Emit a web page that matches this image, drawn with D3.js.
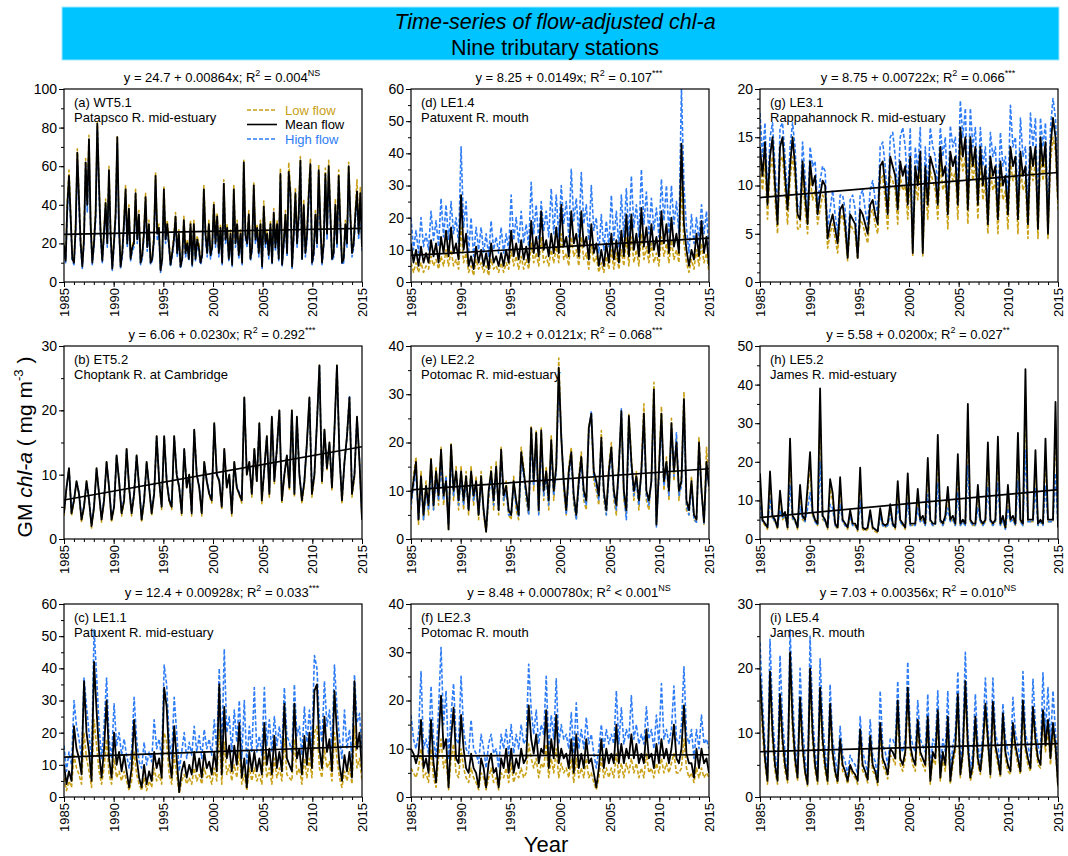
<!DOCTYPE html>
<html>
<head>
<meta charset="utf-8">
<script src="https://cdn.jsdelivr.net/npm/d3@7"></script>
<style>
  body { margin: 0; background: #fff; }
  svg { display: block; font-family: "Liberation Sans", Arial, Helvetica, sans-serif; }
</style>
</head>
<body>
<svg id="chart" width="1068" height="856"></svg>
<script>
// Flow-adjusted GM chl-a (mg m^-3), one row per year 1985-2014.
// WT5.1 rows hold six bi-monthly values; the other stations hold quarterly values [Q1, Q2, Q3, Q4].

// (a) WT5.1
const wt51Low = [
  [20,12,42,58,36,13],[11,30,69,45,22,9],[24,64,42,76,32,11],[22,37,83,53,27,12],[27,43,22,60,27,8],
  [22,37,76,32,9,16],[32,50,22,40,13,19],[22,48,24,37,11,15],[27,46,20,32,11,13],[24,57,27,30,7,13],
  [50,24,32,22,10,16],[24,36,16,27,9,13],[34,16,22,13,32,10],[32,13,24,20,11,15],[50,27,16,32,15,19],
  [42,22,36,16,30,11],[53,24,30,13,27,10],[50,22,32,15,27,11],[63,26,22,37,13,19],[52,24,30,16,32,9],
  [42,22,27,15,32,11],[38,20,32,13,59,10],[22,37,16,62,49,9],[27,49,22,37,65,13],[43,16,27,48,64,11],
  [17,37,22,61,32,11],[22,59,27,63,37,13],[17,43,22,58,32,11],[14,32,22,62,37,16],[22,37,53,27,49,19]];
const wt51Mean = [
  [19,11,40,55,34,12],[10,28,67,43,20,8],[22,62,40,74,30,10],[20,35,82,51,25,11],[25,41,20,58,25,7],
  [20,35,75,30,8,15],[30,48,20,38,12,18],[20,46,22,35,10,14],[25,44,18,30,10,12],[22,55,25,28,6,12],
  [48,22,30,20,9,15],[22,34,15,25,8,12],[32,15,20,12,30,9],[30,12,22,18,10,14],[48,25,15,30,14,18],
  [40,20,34,15,28,10],[51,22,28,12,25,9],[48,20,30,14,25,10],[62,24,20,35,12,18],[50,22,28,15,30,8],
  [39,20,25,14,30,10],[36,18,30,12,56,9],[20,35,15,57,46,8],[25,46,20,35,63,12],[40,15,25,45,61,10],
  [15,35,20,58,30,10],[20,56,25,60,35,12],[15,40,20,55,30,10],[12,30,20,60,35,15],[20,35,47,25,46,18]];
const wt51High = [
  [17,10,36,50,31,11],[9,25,62,39,18,7],[20,58,36,70,27,9],[18,32,79,47,22,10],[23,38,18,54,22,6],
  [18,32,72,27,7,13],[27,44,18,35,11,16],[18,42,20,32,9,12],[23,40,16,27,9,11],[20,51,22,25,5,11],
  [44,20,27,18,8,13],[20,31,13,22,7,11],[29,13,18,11,27,8],[27,11,20,16,9,12],[44,22,13,27,12,16],
  [36,18,31,13,25,9],[47,20,25,11,22,8],[44,18,27,12,22,9],[59,22,18,32,11,16],[46,20,25,13,27,7],
  [35,18,22,12,27,9],[33,16,27,11,52,8],[18,32,13,53,42,7],[22,42,18,32,60,11],[36,13,22,41,58,9],
  [13,32,18,55,27,9],[18,52,22,57,32,11],[13,36,18,51,27,9],[10,27,18,57,32,13],[18,32,43,22,42,16]];

// (b) ET5.2
const et52Low = [
  [3.6,8,11,3.6],[5.8,9,7,2.6],[4.8,9,6,1.7],[4.8,11,7,2.6],[5.8,12,8,2.6],[4.8,13,9,3.6],
  [5.8,14,8,3.6],[6.8,13,8,2.6],[5.8,12,8,3.6],[6.8,16,9,4.6],[16,9,5.8,4.6],[16,10,8,3.6],
  [14,8,10,3.6],[17,10,8,3.6],[12,9,6.8,5.6],[18,10,9,4.6],[14,8,10,3.6],[12,8,6.8,5.6],
  [22,10,12,6.5],[14,8.8,18,5.5],[11,16,6.5,19],[8.6,14,20,5.5],[9.6,13,7.5,20],[6.5,19,10,5.5],
  [8.6,15,22,6.5],[9.6,18,27,8.5],[17,10.6,15,7.5],[17,27,13,5.5],[12,16,22,6.5],[9.6,19,12,2.8]];
const et52Mean = [
  [4,8,11,4],[6,9,7,3],[5,9,6,2],[5,11,7,3],[6,12,8,3],[5,13,9,4],
  [6,14,8,4],[7,13,8,3],[6,12,8,4],[7,16,9,5],[16,9,6,5],[16,10,8,4],
  [14,8,10,4],[17,10,8,4],[12,9,7,6],[18,10,9,5],[14,8,10,4],[12,8,7,6],
  [22,10,12,7],[14,9,18,6],[11,16,7,19],[9,14,20,6],[10,13,8,20],[7,19,10,6],
  [9,15,22,7],[10,18,27,9],[17,11,15,8],[17,27,13,6],[12,16,22,7],[10,19,12,3]];
const et52High = [
  [4.3,8,10.8,4.3],[6.2,8.8,7.2,3.3],[5.2,8.8,6.2,2.3],[5.2,10.8,7.2,3.3],[6.2,11.8,8.2,3.3],[5.2,12.8,9.2,4.3],
  [6.2,13.8,8.2,4.3],[7.2,12.8,8.2,3.3],[6.2,11.8,8.2,4.3],[7.2,15.8,9.2,5.3],[15.8,9.2,6.3,5.3],[15.8,10.2,8.2,4.3],
  [13.8,8.2,9.8,4.3],[16.8,10.2,8.2,4.3],[11.8,9.2,7.2,6.3],[17.8,10.2,9.2,5.3],[13.8,8.2,9.8,4.3],[11.8,8.2,7.2,6.3],
  [21.8,10.2,11.8,7.3],[13.8,9.2,17.8,6.3],[10.8,15.8,7.3,18.8],[9.2,13.8,19.8,6.3],[10.2,12.8,8.3,19.8],[7.3,18.8,10.2,6.3],
  [9.2,14.8,21.8,7.3],[10.2,17.8,26.8,9.3],[16.8,11.2,14.8,8.3],[16.8,26.8,13.2,6.3],[11.8,15.8,22.3,7.3],[10.2,18.8,12.2,3.3]];

// (c) LE1.1
const le11Low = [
  [6,2,5,3],[13,9,7,4],[20,12,8,3],[24,16,8,4],[9,18,7,4],[12,6,8,5],
  [8,5,2,5],[14,7,4,2],[6,2,5,3],[9,5,7,4],[20,17,7,4],[13,7,1,5],
  [7,4,6,4],[9,5,7,4],[9,6,7,4],[9,5,21,4],[17,7,10,5],[10,6,14,4],
  [7,2,9,5],[9,5,7,4],[14,6,9,4],[12,6,9,5],[18,7,6,5],[18,7,9,4],
  [12,6,12,6],[20,22,9,6],[15,9,11,5],[20,12,6,3],[8,5,9,4],[22,9,12,5]];
const le11Mean = [
  [10,4,8,5],[22,15,12,7],[36,20,14,5],[42,27,14,6],[15,30,12,6],[20,10,14,8],
  [13,8,3,9],[24,12,6,3],[10,4,8,5],[14,9,12,6],[34,28,12,6],[22,12,1.5,8],
  [11,6,10,7],[14,8,12,6],[14,9,11,7],[14,8,35,7],[28,12,16,8],[16,10,23,6],
  [12,3,14,8],[14,8,12,7],[23,10,15,7],[19,9,14,8],[29,12,10,8],[29,12,15,7],
  [19,10,20,9],[33,35,15,9],[25,14,18,8],[33,20,10,5],[13,8,14,6],[36,15,20,8]];
const le11High = [
  [16,8,14,10],[30,22,18,12],[37,28,20,11],[52,38,22,12],[22,37,18,12],[29,16,20,13],
  [18,13,9,14],[31,18,11,9],[17,10,14,11],[24,15,18,12],[41,35,18,12],[31,20,8,14],
  [20,12,17,13],[22,14,19,12],[21,15,18,13],[24,14,40,13],[46,20,25,14],[27,17,30,12],
  [30,10,22,14],[34,14,19,13],[34,16,24,14],[25,16,22,14],[34,19,17,14],[35,19,22,13],
  [28,17,27,16],[44,40,24,17],[36,22,27,15],[41,28,18,12],[27,15,21,12],[38,23,26,15]];

// (d) LE1.4
const le14Low = [
  [6,3,6,3],[6,3,5,4],[8,5,7,4],[8,5,10,5],[10,5,7,4],[17,6,9,3],
  [5,2,7,4],[6,3,5,2],[7,4,5,3],[6,3,6,4],[10,5,8,4],[8,4,7,4],
  [12,6,9,5],[14,6,8,5],[10,6,11,6],[15,7,9,5],[14,8,10,5],[14,7,9,4],
  [12,6,8,3],[6,3,8,4],[10,4,9,4],[10,5,14,5],[14,6,10,5],[15,7,11,6],
  [12,6,9,5],[14,8,12,6],[13,7,10,6],[30,12,6,3],[7,4,10,5],[12,6,9,3]];
const le14Mean = [
  [12,6,10,5],[11,6,9,6],[13,8,12,6],[14,9,16,8],[17,9,12,7],[27,10,15,5],
  [8,4,11,6],[10,5,9,4],[12,6,8,5],[9,5,10,6],[16,8,12,7],[13,7,11,6],
  [19,9,14,8],[22,10,13,8],[15,9,17,9],[24,11,14,8],[22,12,15,8],[22,11,14,7],
  [18,9,12,5],[10,5,12,6],[15,7,13,6],[16,8,21,8],[21,10,15,8],[23,11,17,9],
  [18,10,14,8],[22,12,18,9],[20,11,15,9],[43,18,10,5],[10,7,15,8],[19,9,14,5]];
const le14High = [
  [20,10,16,9],[20,11,15,10],[22,13,19,11],[26,14,24,13],[25,15,20,12],[42,17,25,9],
  [20,8,17,10],[17,9,15,8],[19,10,14,9],[17,9,15,10],[27,13,20,12],[22,12,18,11],
  [31,15,24,13],[25,16,22,14],[29,15,27,14],[30,18,25,14],[35,19,26,14],[34,18,24,13],
  [30,16,20,9],[21,10,19,11],[27,13,22,11],[27,14,29,14],[33,17,24,14],[35,18,28,15],
  [26,16,23,14],[32,19,30,15],[30,18,25,15],[60,30,17,9],[21,12,20,13],[24,15,22,9]];

// (e) LE2.2
const le22Low = [
  [6,13,17,3],[14,4,12,5],[17,6,15,7],[19,7,13,2],[20,8,15,6],[15,6,14,5],
  [15,7,13,4],[14,5,1.5,8],[15,6,16,5],[19,7,12,5],[4,13,6,4],[19,15,8,5],
  [23.5,10,22.5,5],[23,8,15,6],[21.5,8,16,37.5],[22,10,5,15],[19,7,4,13],[18,8,6,23.5],
  [25,12,10,7],[22.5,8,5,15],[20,8,5,16],[25,8,5,26],[17,8,14,6],[15,28,8,6],
  [13,32.5,3,15],[27.5,10,17,8],[25,12,21,8],[13,30.5,6,5],[13,4,3.5,21],[11,3,19,10]];
const le22Mean = [
  [8,12,16,4],[13,5,11,7],[16.5,7,14,9],[18.5,9,12,2],[19.5,10,14,8],[14,8,13,6],
  [14,9,12,5],[13,6,1.5,10],[14,8,15,6],[18.5,9,11,6],[5,12,8,5],[18,14,10,6],
  [23,12,22,6],[22.5,10,14,8],[20.5,10,15,35.5],[21,12,6,14],[18,9,5,12],[17,10,8,23],
  [26,14,12,9],[21,10,6,14],[19,10,7,15],[26.5,10,6,25.5],[16,10,13,8],[14,26,10,8],
  [12,31,3,14],[26,12,16,10],[24,14,20,10],[12,29,8,6],[12,5,4,20],[10,3.5,16,11]];
const le22High = [
  [7,11,14,4],[12,4,10,6],[15,6,13,8],[16,8,13,3],[17,9,14,7],[13,7,12,6],
  [13,8,11,5],[12,6,2,9],[13,7,14,6],[17,8,10,5],[5,11,7,4.5],[16,13,9,5],
  [21,11,20,5],[20,9,13,7],[19,9,14,33],[22,11,5,13],[17,8,4,11],[16,9,7,22],
  [26.5,13,11,8],[20,9,5,13],[18,9,6,14],[27,9,4,24],[15,9,12,7],[14,24,9,7],
  [12,29,2.5,13],[24,11,15,9],[23,13,22,9],[11,27,7,5],[11,4,3.5,19],[10,3,15,11]];

// (f) LE2.3
const le23Low = [
  [6,5,4,6],[10,4,5,3],[10,4,2,8],[12,6,8,1.5],[8,11,5,4],[10,6,4,3],
  [6,4,3,1.5],[5,4,1.5,4],[6,3,4,1.5],[5,4,6,3],[7,3,5,4],[6,4,5,11],
  [8,6,8,4],[7,6,11,4],[8,5,10,4],[7,5,6,4],[8,3,8,4],[6,4,8,4],
  [5,3,1.5,4],[8,4,6,4],[6,4,9,4],[7,4,7,5],[8,5,7,4],[6,4,9,5],
  [6,4,7,5],[8,5,7,5],[7,9,5,5],[6,12,6,4],[5,3,6,4],[6,4,5,4]];
const le23Mean = [
  [10,9,7,9],[16,6,8,5],[16,7,3,12],[21,10,12,2],[12,18.5,8,7],[17,10,6,5],
  [9,6,5,2],[8,6,2,7],[9,5,6,2],[8,6,10,5],[10,5,8,6],[10,7,8,19],
  [12,9,13,7],[10,9,18,6],[12,8,17,7],[10,8,9,6],[12,5,13,6],[9,6,12,7],
  [8,5,2,6],[12,6,10,7],[9,7,15,7],[11,7,10,8],[13,8,11,7],[9,7,14,8],
  [9,6,11,7],[12,8,10,7],[10,15,8,7],[10,19,9,7],[7,4,10,6],[10,7,8,5]];
const le23High = [
  [17,12,10,13],[26,10,12,9],[23,12,8,18],[31,15,22,8],[17,23.5,12,11],[25,14,10,9],
  [16,10,9,7],[13,10,6,11],[13,9,10,6],[13,10,14,9],[15,9,13,10],[15,11,12,27.5],
  [18,13,18,11],[15,13,25,10],[17,12,24.5,11],[15,12,13,10],[17.5,9,19.5,10],[14,10,16.5,11],
  [13,9,6,10],[15,10,14,11],[13,11,22,11],[18.5,11,14,12],[21,12,15,11],[13,11,18.7,12],
  [14,10,17,11],[23.5,12,14,11],[14,23,12,11],[15,27,13,11],[14,8,14,10],[17,11,12,10]];

// (g) LE3.1
const le31Low = [
  [12.5,9.5,12.5,6.5],[11.5,13,8.5,5],[12.5,13,9.5,6],[10.5,13,10.5,5.5],[5.5,11,7.5,5],[11,8.5,9.5,6],
  [7.5,9,8.5,3.5],[5,6,4.5,3],[6.5,7,5,2.2],[6,5.5,5,2.3],[6.5,6,5,4],[7,7.5,6,5],
  [10.5,11,8.5,5.5],[11,10.5,9.5,6],[11,9.5,10,6.5],[11.5,2.7,10.5,8.5],[12,2.7,10.5,6.5],[11.5,10.5,9.5,6.5],
  [12.5,9.5,10.5,5.5],[12,10.5,11.5,6.5],[14,11.5,13,6],[13.5,10.5,12.5,6.5],[12.5,8.5,10.5,5],[11.5,9.5,10.5,5],
  [11,8.5,9.5,5.5],[12.5,10.5,11.5,5],[12,9.5,10.5,4.5],[12.5,10.5,12.5,4.5],[13.5,10.5,13,4.5],[12.5,15,13.5,7.5]];
const le31Mean = [
  [14,11,14.5,8],[13,15,10,6],[14,15,11,7.5],[12,15,12,7],[6.5,12.5,9,6],[12.5,10,11,7],
  [9,10.5,10,4.5],[6,7,5.5,4],[7.5,8,6,2.5],[7,6.5,6,2.5],[7.5,7,6,5],[8,8.5,7,6],
  [12,12.5,10,7],[13,12,11,7.5],[12.5,11,12,8],[13,3,12,10],[13.5,3,12,8],[13,12,11,8],
  [14,11,12,7],[13.5,12,13,8],[16,13,15,7.5],[15,12,14,8],[14,10,12,6],[13,11,12,6.5],
  [12.5,10,11,7],[14,12,13,6.5],[13.5,11,12,6],[14,12,14,5.5],[15,12,14.5,5],[14,17,15,8.5]];
const le31High = [
  [17.5,13,16.5,9],[15,16.5,12,7],[16,16.5,13,8.5],[14,16.5,14,8],[7.5,14.5,11,7],[14,12,12.5,8],
  [10.5,12,11.5,5.5],[7.5,9.5,7,5],[9,9,7.5,3],[8.5,9,7.5,3],[9,9.5,7.5,6],[9.5,10.5,8.5,7],
  [14,14.5,12,8],[15,15.5,13,9],[15,16,14,9.5],[16,3.5,14,11.5],[16,3.5,14,9.5],[16,14,13,9.5],
  [16,13,15,8.5],[16.2,14,15,9.5],[18.8,15,18,9],[18,14,16,9.5],[16,12,14,7.5],[15.5,13,14,8],
  [15.5,12,13,8.5],[18.3,14,15,8],[17,13,14,7.5],[17.5,14,17,7],[17,14,16.5,6],[16,19,17,10]];

// (h) LE5.2
const le52Low = [
  [15,4.5,3.5,2.5],[15,5,4.5,2.5],[11,5,6,2.5],[22,5,4.5,2.5],[12,5,4.5,11.5],[19,6,4.5,3.5],
  [33,5,4.5,2.5],[13,10,3.5,2.5],[13.5,4.5,3.5,2.5],[6.5,3.5,3.5,2],[15.5,2.5,2,2.5],[6.5,2.5,2,1.5],
  [7,3.5,3,3.5],[8,3.5,2.5,12.5],[4.5,3.5,2.5,14.5],[3.5,3.5,3.5,11],[4.5,5,3.5,18],[4.5,3.5,3.5,23],
  [4.5,3.5,5,11.5],[4.5,5,3.5,19],[3.5,4.5,3.5,30],[4.5,3.5,3.5,12],[4.5,3.5,4.5,21],[4.5,3.5,4.5,22.5],
  [3.5,5,2.5,12],[4.5,5,3.5,23.5],[4.5,3.5,37,4.5],[4.5,4.5,19.5,3.5],[4.5,3.5,22,4.5],[4.5,4.5,30,2.5]];
const le52Mean = [
  [17,5,4,3],[17.5,6,5,3],[12.5,6,7,3],[26,6,5,3],[14,6,5,13.5],[22.5,7,5,4],
  [39,6,5,3],[15.5,12,4,3],[16,5,4,3],[7.5,4,4,2.5],[18.5,3,2.5,3],[7.5,3,2.5,2],
  [8,4,3.5,4],[9,4,3,15],[5,4,3,17],[4,4,4,13],[5,6,4,21],[5,4,4,27],
  [5,4,6,13.5],[5,6,4,22],[4,5,4,35],[5,4,4,14],[5,4,5,25],[5,4,5,26.5],
  [4,6,3,14],[5,6,4,27.5],[5,4,44,5],[5,5,23,4],[5,4,26,5],[5,5,35.5,3]];
const le52High = [
  [8.5,4.5,4,3],[10.5,5.5,4.5,3],[7.5,5.5,6,3],[14,5.5,4.5,3],[8.5,5.5,4.5,8],[12,6.5,4.5,3.5],
  [20,5.5,4.5,3],[9,8,3.5,3],[9,4.5,3.5,3],[6,3.5,3.5,2.5],[10,3,2.5,3],[6,3,2.5,2],
  [6,3.5,3,3.5],[6.5,3.5,3,8.5],[4.5,3.5,3,9.5],[3.5,3.5,3.5,8],[4.5,5,3.5,11.5],[4.5,3.5,3.5,14.5],
  [4.5,3.5,5,8],[4.5,5,3.5,12],[3.5,4.5,3.5,19],[4.5,3.5,3.5,8],[4.5,3.5,4.5,13.5],[4.5,3.5,4.5,14.5],
  [3.5,5,2.5,8],[4.5,5,3.5,15],[4.5,3.5,23,4.5],[4.5,4.5,13,3.5],[4.5,3.5,14,4.5],[4.5,4.5,17,3]];

// (i) LE5.4
const le54Low = [
  [17,10,5,2],[17.5,8.5,4,2],[14,7.5,4,2.2],[20,10,5,2.5],[13.5,7,3.5,1.7],[17.5,8.5,4,2],
  [15,7.5,4,2],[12.5,6,3.5,2],[8,4,3.5,2],[4.5,3.5,3,2],[9,4,3.5,2.2],[8,4,3.5,1.8],
  [10,5,4,2.8],[6.5,6,5,13],[5,4,6,15],[7,5,4,10.5],[6,5,4,11],[2,6,5,11.5],
  [2.5,6,4,11],[2,5,7,14],[3,6,16,7],[2.5,4,11,5],[3.5,7,13,8],[3,13,7,5],
  [3,11.5,6,4],[3.5,10,7,5],[3.5,13,7,5],[4,12.5,8,5],[4.5,12,7,10.5],[5,10,7,1.5]];
const le54Mean = [
  [19,12,6,2.5],[19.5,10,5,2.5],[16,9,5,2.7],[22.5,12,6,3],[15.5,8,4,2],[20,10,5,2.5],
  [17,9,5,2.5],[14.5,7,4,2.5],[9,5,4,2.5],[5,4,3.5,2.5],[10.5,5,4,2.7],[9.5,5,4,2.3],
  [11.5,6,5,3.5],[7.5,7,6,15],[6,5,7,17],[8,6,5,12],[7,6,5,12.5],[2.5,7,6,13.5],
  [3,7,5,12.5],[2.5,6,8,16],[3.5,7,18,8],[3,5,12.5,6],[4,8,14.5,9],[3.5,14.8,8,6],
  [3.5,13,7,5],[4,11.5,8,6],[4,15,8,6],[4.5,14,9,6],[5,13.5,8,12],[6,11.5,8,1.8]];
const le54High = [
  [24,15,8,3.5],[24.5,13,7,3.5],[22,12,7,3.7],[26,16,8,4],[20,11,6,3],[25,13,7,3.5],
  [21.5,12,7,3.5],[17.5,9,6,3.5],[11,6.5,5.5,3.5],[6.5,5.5,5,3.5],[12.5,7,5.5,3.5],[12,6.5,5.5,3],
  [16.5,8,7,5],[9,9,8,18],[8,7,9,21],[10,8,7,15],[9,8,7,16],[3.5,9,8,16.5],
  [4,9,7,16.5],[3.5,8,10,19.5],[5,9,22.5,10],[4,7,16,8],[5.5,10,18.5,11],[5,18.5,10,8],
  [5,14.5,9,7],[5.5,15.5,10,8],[5.5,19.5,10,8],[6,18.3,11,8],[6.5,19.3,10,17],[8,16.5,10,4]];

// Panel order: column by column, (a)-(c), (d)-(f), (g)-(i)
const stationIds = ["(a) WT5.1", "(b) ET5.2", "(c) LE1.1", "(d) LE1.4", "(e) LE2.2",
                    "(f) LE2.3", "(g) LE3.1", "(h) LE5.2", "(i) LE5.4"];
const stationNames = ["Patapsco R. mid-estuary", "Choptank R. at Cambridge", "Patuxent R. mid-estuary",
                      "Patuxent R. mouth", "Potomac R. mid-estuary", "Potomac R. mouth",
                      "Rappahannock R. mid-estuary", "James R. mid-estuary", "James R. mouth"];
const lowSeries  = [wt51Low,  et52Low,  le11Low,  le14Low,  le22Low,  le23Low,  le31Low,  le52Low,  le54Low];
const meanSeries = [wt51Mean, et52Mean, le11Mean, le14Mean, le22Mean, le23Mean, le31Mean, le52Mean, le54Mean];
const highSeries = [wt51High, et52High, le11High, le14High, le22High, le23High, le31High, le52High, le54High];

// Linear trend y = intercept + slope * x, x = months since January 1985
const intercepts = ["24.7", "6.06", "12.4", "8.25", "10.2", "8.48", "8.75", "5.58", "7.03"];
const slopes = ["0.00864", "0.0230", "0.00928", "0.0149", "0.0121", "0.000780", "0.00722", "0.0200", "0.00356"];
const r2Text = ["= 0.004", "= 0.292", "= 0.033", "= 0.107", "= 0.068", "< 0.001", "= 0.066", "= 0.027", "= 0.010"];
const significance = ["NS", "***", "***", "***", "***", "NS", "***", "**", "NS"];

const yMax   = [100, 30, 60, 60, 40, 40, 20, 50, 30];
const yMajor = [20, 10, 10, 10, 10, 10, 5, 10, 10];
const yMinor = [10, 5, 5, 5, 5, 5, 1, 5, 5];
const xTicks = [1985, 1990, 1995, 2000, 2005, 2010, 2015];
const yearStart = 1985, yearEnd = 2015;

const legendLabels = ["Low flow", "Mean flow", "High flow"];
const COLORS = { low: "#C9A016", mean: "#000000", high: "#2E7CF6" };

const svg = d3.select("#chart");

// Title banner
svg.append("rect").attr("x", 62).attr("y", 7).attr("width", 997).attr("height", 53)
  .attr("fill", "#00C4FF").attr("stroke", "#9FE8FF").attr("stroke-width", 1);
svg.append("text").attr("x", 555).attr("y", 29).attr("text-anchor", "middle")
  .attr("font-size", 21.5).attr("font-style", "italic").attr("fill", "#000")
  .text("Time-series of flow-adjusted chl-a");
svg.append("text").attr("x", 555).attr("y", 54.5).attr("text-anchor", "middle")
  .attr("font-size", 21.5).attr("fill", "#000")
  .text("Nine tributary stations");

// Shared axis titles
const yTitle = svg.append("text").attr("transform", "translate(32,447) rotate(-90)")
  .attr("text-anchor", "middle").attr("font-size", 21).attr("fill", "#000");
yTitle.append("tspan").text("GM ");
yTitle.append("tspan").attr("font-style", "italic").text("chl-a");
yTitle.append("tspan").text(" ( mg m");
yTitle.append("tspan").attr("font-size", 13).attr("dy", -9).text("-3");
yTitle.append("tspan").attr("dy", 9).text(" )");

svg.append("text").attr("x", 546).attr("y", 852).attr("text-anchor", "middle")
  .attr("font-size", 22).attr("fill", "#000").text("Year");

const colLeft = [64, 411, 760];
const rowTop = [89, 346, 604];
const W = 298, H = 193;

const x = d3.scaleLinear().domain([yearStart, yearEnd]).range([0, W]);

stationIds.forEach((id, i) => {
  const col = Math.floor(i / 3), row = i % 3;
  const g = svg.append("g").attr("transform", `translate(${colLeft[col]},${rowTop[row]})`);
  const y = d3.scaleLinear().domain([0, yMax[i]]).range([H, 0]);

  // Clip region for the series
  const clipId = `clip-${i}`;
  g.append("clipPath").attr("id", clipId).append("rect")
    .attr("x", 0).attr("y", 0).attr("width", W).attr("height", H);

  const plot = g.append("g").attr("clip-path", `url(#${clipId})`);

  const drawSeries = (rows, color, dashed, width) => {
    const vals = rows.flat();
    const n = vals.length;
    const line = d3.line()
      .x((d, k) => x(yearStart + k * (yearEnd - yearStart) / (n - 1)))
      .y(d => y(d));
    plot.append("path").datum(vals)
      .attr("d", line)
      .attr("fill", "none")
      .attr("stroke", color)
      .attr("stroke-width", width)
      .attr("stroke-linejoin", "round")
      .attr("stroke-dasharray", dashed ? "4,2" : null);
  };
  drawSeries(lowSeries[i], COLORS.low, true, 1.6);
  drawSeries(highSeries[i], COLORS.high, true, 1.6);
  drawSeries(meanSeries[i], COLORS.mean, false, 1.8);

  // Trend line from the fitted equation
  const a = +intercepts[i], b = +slopes[i];
  const months = (yearEnd - yearStart) * 12;
  plot.append("line")
    .attr("x1", x(yearStart)).attr("y1", y(a))
    .attr("x2", x(yearEnd)).attr("y2", y(a + b * months))
    .attr("stroke", "#000").attr("stroke-width", 1.7);

  // Axes
  const yAxis = d3.axisLeft(y).tickValues(d3.range(0, yMax[i] + 0.001, yMajor[i]))
    .tickSize(5).tickPadding(2).tickFormat(d3.format("d"));
  const yAxisMinor = d3.axisLeft(y).tickValues(d3.range(0, yMax[i] + 0.001, yMinor[i]))
    .tickSize(3).tickFormat("");
  const xAxis = d3.axisBottom(x).tickValues(xTicks).tickSize(5).tickFormat(d3.format("d"));
  const xAxisMinor = d3.axisBottom(x).tickValues(d3.range(yearStart, yearEnd + 1, 1))
    .tickSize(3).tickFormat("");

  const styleAxis = (sel, size) => {
    sel.select(".domain").remove();
    sel.selectAll("line").attr("stroke", "#000").attr("stroke-width", 1);
    sel.selectAll("text").attr("fill", "#000").attr("font-size", size)
      .attr("font-family", "'Liberation Sans', Arial, sans-serif");
  };
  g.append("g").call(yAxisMinor).call(styleAxis, 14);
  g.append("g").call(yAxis).call(styleAxis, 14);
  g.append("g").attr("transform", `translate(0,${H})`).call(xAxisMinor).call(styleAxis, 13);
  const xg = g.append("g").attr("transform", `translate(0,${H})`).call(xAxis).call(styleAxis, 13);
  xg.selectAll("text")
    .attr("transform", "rotate(-90)")
    .attr("text-anchor", "end")
    .attr("x", -6).attr("y", 0).attr("dy", "0.35em");

  // Frame
  g.append("rect").attr("width", W).attr("height", H)
    .attr("fill", "none").attr("stroke", "#000").attr("stroke-width", 1.2);

  // Station labels
  g.append("text").attr("x", 10).attr("y", 18).attr("font-size", 13).attr("fill", "#000").text(id);
  g.append("text").attr("x", 10).attr("y", 33).attr("font-size", 13).attr("fill", "#000").text(stationNames[i]);

  // Trend equation above the panel
  const eq = g.append("text").attr("x", W / 2 + 9).attr("y", -7).attr("text-anchor", "middle")
    .attr("font-size", 13).attr("fill", "#000");
  eq.append("tspan").text(`y = ${intercepts[i]} + ${slopes[i]}x; R`);
  eq.append("tspan").attr("font-size", 9).attr("dy", -6).text("2");
  eq.append("tspan").attr("font-size", 13).attr("dy", 6).text(` ${r2Text[i]}`);
  eq.append("tspan").attr("font-size", 9).attr("dy", -6).text(significance[i]);

  // Legend in the first panel
  if (i === 0) {
    const leg = g.append("g").attr("transform", "translate(183,21)");
    const legColors = [COLORS.low, COLORS.mean, COLORS.high];
    legendLabels.forEach((lab, k) => {
      const ly = k * 14.5;
      leg.append("line").attr("x1", 0).attr("x2", 30).attr("y1", ly).attr("y2", ly)
        .attr("stroke", legColors[k]).attr("stroke-width", 1.6)
        .attr("stroke-dasharray", k === 1 ? null : "4,2");
      leg.append("text").attr("x", 38).attr("y", ly + 4.5).attr("font-size", 13)
        .attr("fill", legColors[k]).text(lab);
    });
  }
});
</script>
</body>
</html>
